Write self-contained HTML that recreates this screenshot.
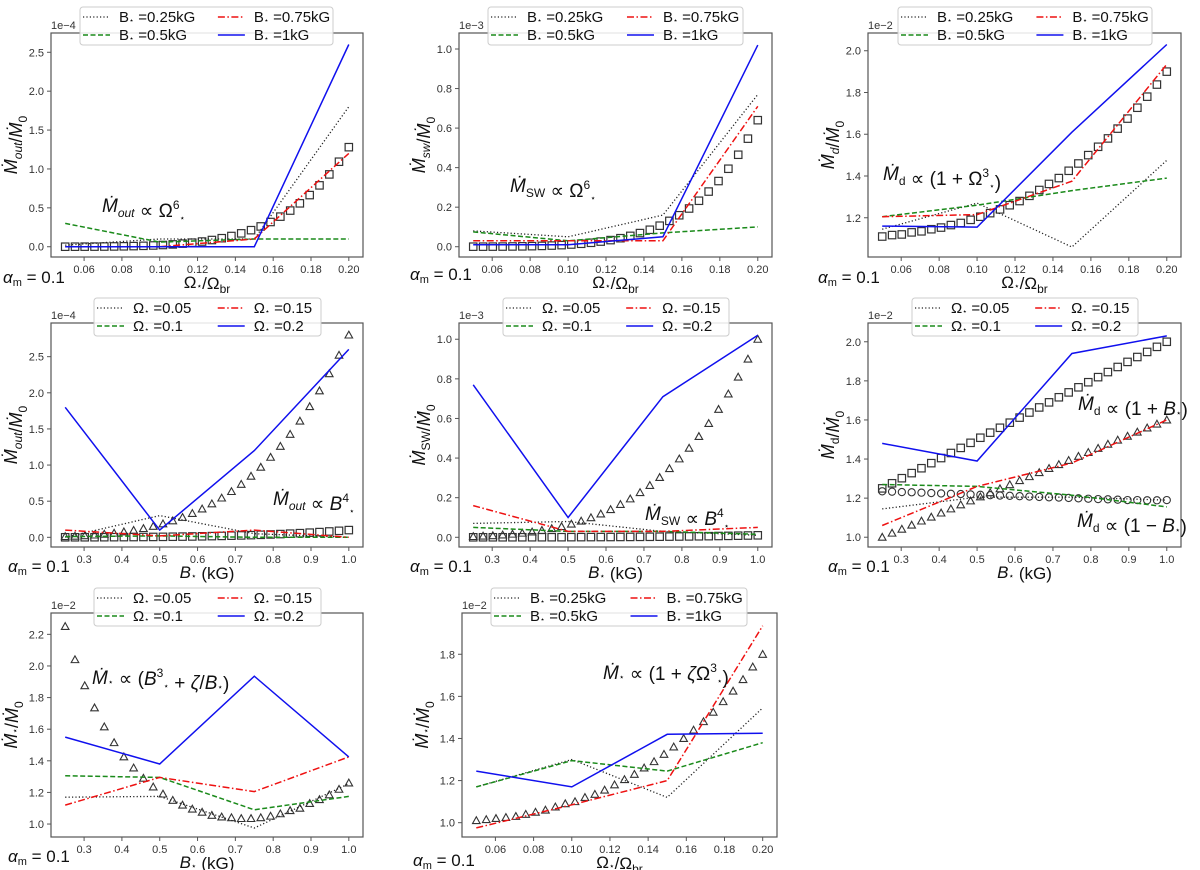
<!DOCTYPE html>
<html><head><meta charset="utf-8"><style>
html,body{margin:0;padding:0;background:#fff;}
svg{display:block;font-family:"Liberation Sans","DejaVu Sans",sans-serif;}
</style></head><body>
<svg id="fig" width="1200" height="870" viewBox="0 0 1200 870" xmlns="http://www.w3.org/2000/svg"></svg>
<script>
// ---------- DATA ----------
const omegaLineX = [0.05, 0.10, 0.15, 0.20];
const bLineX = [0.25, 0.50, 0.75, 1.00];
const omegaMarkX = [0.0500,0.0552,0.0603,0.0655,0.0707,0.0759,0.0810,0.0862,0.0914,0.0966,0.1017,0.1069,0.1121,0.1172,0.1224,0.1276,0.1328,0.1379,0.1431,0.1483,0.1534,0.1586,0.1638,0.1690,0.1741,0.1793,0.1845,0.1897,0.1948,0.2000];
const bMarkX = [0.2500,0.2759,0.3017,0.3276,0.3534,0.3793,0.4052,0.4310,0.4569,0.4828,0.5086,0.5345,0.5603,0.5862,0.6121,0.6379,0.6638,0.6897,0.7155,0.7414,0.7672,0.7931,0.8190,0.8448,0.8707,0.8966,0.9224,0.9483,0.9741,1.0000];
const omegaTicks = [0.06,0.08,0.10,0.12,0.14,0.16,0.18,0.20];
const omegaTickLabels = ["0.06","0.08","0.10","0.12","0.14","0.16","0.18","0.20"];
const bTicks = [0.3,0.4,0.5,0.6,0.7,0.8,0.9,1.0];
const bTickLabels = ["0.3","0.4","0.5","0.6","0.7","0.8","0.9","1.0"];
const bLegend = ["=0.25kG","=0.5kG","=0.75kG","=1kG"];
const omLegend = ["=0.05","=0.1","=0.15","=0.2"];

const p1B025 = [0.02,0.10,0.10,1.80];
const p1B05 = [0.30,0.06,0.10,0.10];
const p1B075 = [0.0,0.0,0.10,1.20];
const p1B1 = [0.0,0.0,0.0,2.60];
const p1Squares = [0.0003,0.0006,0.0010,0.0016,0.0025,0.0038,0.0056,0.0082,0.0117,0.0161,0.0221,0.0299,0.0398,0.0520,0.0670,0.0863,0.1097,0.138,0.172,0.213,0.261,0.318,0.387,0.465,0.558,0.664,0.789,0.930,1.093,1.28];
const p2B025 = [0.08,0.05,0.16,0.77];
const p2B05 = [0.075,0.03,0.07,0.10];
const p2B075 = [0.03,0.03,0.03,0.71];
const p2B1 = [0.01,0.01,0.05,1.02];
const p2Squares = [0.0002,0.0003,0.0005,0.0008,0.0013,0.0019,0.0028,0.0041,0.0058,0.0080,0.0111,0.0149,0.0199,0.0260,0.0335,0.0431,0.0549,0.0690,0.0858,0.1064,0.1307,0.1591,0.1933,0.2325,0.2790,0.3322,0.3944,0.4652,0.5466,0.64];
const p3B025 = [1.145,1.27,1.06,1.475];
const p3B05 = [1.205,1.26,1.33,1.39];
const p3B075 = [1.205,1.215,1.375,1.935];
const p3B1 = [1.16,1.155,1.61,2.03];
const p3Squares = [1.11,1.117,1.12,1.13,1.135,1.145,1.153,1.165,1.175,1.19,1.205,1.222,1.24,1.26,1.28,1.305,1.333,1.362,1.39,1.425,1.46,1.50,1.54,1.58,1.627,1.675,1.727,1.78,1.838,1.90];
const p4O005 = [0.0,0.30,0.05,0.0];
const p4O01 = [0.01,0.02,0.0,0.0];
const p4O015 = [0.10,0.02,0.10,0.0];
const p4O02 = [1.80,0.10,1.20,2.60];
const p4Triangles = [0.011,0.016,0.023,0.032,0.044,0.058,0.076,0.097,0.122,0.152,0.187,0.229,0.276,0.331,0.393,0.464,0.544,0.634,0.734,0.846,0.970,1.108,1.260,1.426,1.609,1.809,2.027,2.264,2.521,2.80];
const p4Squares = [0.0004,0.0006,0.0008,0.0012,0.0016,0.0021,0.0027,0.0035,0.0044,0.0054,0.0067,0.0082,0.0099,0.0118,0.0140,0.0166,0.0194,0.0226,0.0262,0.0302,0.0347,0.0396,0.0450,0.0509,0.0575,0.0646,0.0724,0.0809,0.0900,0.10];
const p5O005 = [0.07,0.08,0.03,0.01];
const p5O01 = [0.05,0.03,0.03,0.015];
const p5O015 = [0.16,0.03,0.03,0.05];
const p5O02 = [0.77,0.10,0.71,1.02];
const p5Triangles = [0.004,0.006,0.008,0.012,0.016,0.021,0.027,0.035,0.044,0.054,0.067,0.082,0.099,0.118,0.140,0.166,0.194,0.226,0.262,0.302,0.347,0.396,0.450,0.509,0.575,0.646,0.724,0.809,0.900,1.0];
const p5Squares = [0.0000,0.0001,0.0001,0.0001,0.0002,0.0002,0.0003,0.0003,0.0004,0.0005,0.0007,0.0008,0.0010,0.0012,0.0014,0.0017,0.0019,0.0023,0.0026,0.0030,0.0035,0.0040,0.0045,0.0051,0.0057,0.0065,0.0072,0.0081,0.0090,0.010];
const p6O005 = [1.145,1.205,1.205,1.19];
const p6O01 = [1.27,1.26,1.215,1.155];
const p6O015 = [1.06,1.26,1.38,1.60];
const p6O02 = [1.48,1.39,1.94,2.03];
const p6Squares = [1.25,1.276,1.302,1.328,1.353,1.379,1.405,1.431,1.457,1.483,1.509,1.535,1.560,1.586,1.612,1.638,1.664,1.690,1.716,1.741,1.767,1.793,1.819,1.845,1.871,1.897,1.922,1.948,1.974,2.00];
const p6Triangles = [1.00,1.021,1.041,1.062,1.083,1.103,1.124,1.145,1.166,1.186,1.207,1.228,1.248,1.269,1.290,1.310,1.331,1.352,1.372,1.393,1.414,1.434,1.455,1.476,1.497,1.517,1.538,1.559,1.579,1.60];
const p6Circles = [1.235,1.233,1.231,1.230,1.228,1.226,1.224,1.222,1.221,1.219,1.217,1.215,1.213,1.212,1.210,1.208,1.206,1.204,1.203,1.201,1.199,1.197,1.195,1.194,1.192,1.190,1.190,1.189,1.189,1.19];
const p7O005 = [1.17,1.175,0.975,1.255];
const p7O01 = [1.305,1.295,1.09,1.175];
const p7O015 = [1.12,1.295,1.205,1.425];
const p7O02 = [1.55,1.38,1.935,1.425];
const p7Triangles = [2.25,2.04,1.875,1.735,1.615,1.515,1.425,1.355,1.29,1.235,1.19,1.15,1.12,1.095,1.075,1.055,1.045,1.04,1.035,1.035,1.04,1.05,1.065,1.085,1.10,1.13,1.155,1.185,1.22,1.26];
const p8B025 = [1.17,1.30,1.12,1.545];
const p8B05 = [1.17,1.295,1.245,1.38];
const p8B075 = [0.975,1.085,1.20,1.935];
const p8B1 = [1.245,1.17,1.42,1.425];
const p8Triangles = [1.01,1.015,1.02,1.025,1.03,1.04,1.05,1.06,1.075,1.09,1.10,1.12,1.135,1.155,1.18,1.205,1.23,1.26,1.29,1.325,1.36,1.40,1.44,1.48,1.525,1.575,1.625,1.68,1.74,1.80];

// ---------- RENDER ----------
const NS = "http://www.w3.org/2000/svg";
const svg = document.getElementById('fig');
function mk(tag, attrs, parent){ const e=document.createElementNS(NS,tag); for(const k in attrs) e.setAttribute(k,attrs[k]); (parent||svg).appendChild(e); return e; }
const STYLES = [
  {stroke:'#222', dash:'1.2,2.2', w:1.3},
  {stroke:'#1a8a1a', dash:'5,2.5', w:1.5},
  {stroke:'#ee1111', dash:'7,2.5,1.5,2.5', w:1.5},
  {stroke:'#1010ee', dash:'', w:1.5}
];
const STAR='<tspan font-size="8" dy="1">⋆</tspan><tspan dy="-1"> </tspan>';
const STARA='<tspan font-size="9" dy="1">⋆</tspan><tspan dy="-1"></tspan>';

function panel(cfg){
  const g = mk('g',{});
  
  
  const L=cfg.box[0], R=cfg.box[1], T=cfg.box[2], B=cfg.box[3];
  const sx = v => L + (v - cfg.xlim[0])/(cfg.xlim[1]-cfg.xlim[0])*(R-L);
  const sy = v => B - (v - cfg.ylim[0])/(cfg.ylim[1]-cfg.ylim[0])*(B-T);
  const frame = mk('rect',{x:L,y:T,width:R-L,height:B-T,fill:'#fff',stroke:'#555','stroke-width':1.2},g);
  
  
  cfg.xt.forEach((v,i)=>{
    const x=sx(v);
    mk('line',{x1:x,x2:x,y1:B,y2:B+4,stroke:'#555','stroke-width':1},g);
    const t=mk('text',{x:x,y:B+16,'font-size':11,fill:'#333','text-anchor':'middle'},g);
    t.textContent=cfg.xtl[i];
    
    
  });
  cfg.yt.forEach(v=>{
    const y=sy(v);
    mk('line',{x1:L-4,x2:L,y1:y,y2:y,stroke:'#555','stroke-width':1},g);
    const t=mk('text',{x:L-7,y:y+4,'font-size':11,fill:'#333','text-anchor':'end'},g);
    t.textContent=v.toFixed(1);
    
    
  });
  const off=mk('text',{x:L,y:T-4,'font-size':11,fill:'#333'},g);
  off.textContent=cfg.offset;
  
  
  (cfg.markers||[]).forEach(m=>{
    m.vals.forEach((v,i)=>{
      const x=sx(m.xs[i]), y=sy(v);
      let e;
      if(m.shape==='sq') e=mk('rect',{x:x-3.7,y:y-3.7,width:7.4,height:7.4,fill:'none',stroke:'#333','stroke-width':1.2},g);
      else if(m.shape==='tri') e=mk('path',{d:`M${x},${y-3.8}L${x+3.8},${y+3}L${x-3.8},${y+3}Z`,fill:'none',stroke:'#333','stroke-width':1.1},g);
      else e=mk('circle',{cx:x,cy:y,r:3.6,fill:'none',stroke:'#333','stroke-width':1.1},g);
      
      
    });
  });
  cfg.lines.forEach((ys,k)=>{
    const st=STYLES[k];
    const pts=ys.map((v,i)=>sx(cfg.lx[i]).toFixed(1)+','+sy(v).toFixed(1)).join(' ');
    const p=mk('polyline',{points:pts,fill:'none',stroke:st.stroke,'stroke-width':st.w,'stroke-dasharray':st.dash},g);
    
    
  });
  const lg=cfg.legend; const lx=lg[0], ly=lg[1], lw=lg[2];
  const lgG=mk('g',{},g);
  
  
  mk('rect',{x:lx,y:ly,width:lw,height:38,rx:3,fill:'#fff','fill-opacity':0.85,stroke:'#ccc','stroke-width':1},lgG);
  cfg.labels.forEach((lab,k)=>{
    const col=k>>1, row=k&1;
    const x0=lx+3+col*(lw*0.545-3);
    const y0=ly+10+row*18;
    const st=STYLES[k];
    mk('line',{x1:x0,x2:x0+27,y1:y0,y2:y0,stroke:st.stroke,'stroke-width':st.w,'stroke-dasharray':st.dash},lgG);
    const t=mk('text',{x:x0+36,y:y0+5,'font-size':15,fill:'#111'},lgG);
    t.innerHTML=cfg.sym+STAR+lab;
    
    
  });
  const xl=mk('text',{x:(L+R)/2,y:B+31,'font-size':17,fill:'#111','text-anchor':'middle'},g);
  xl.innerHTML=cfg.xlabel;
  
  
  const cy=(T+B)/2;
  const yl=mk('text',{x:L-34,y:cy,'font-size':18,fill:'#111','text-anchor':'middle',transform:`rotate(-90 ${L-34} ${cy})`},g);
  yl.innerHTML=cfg.ylabel;
  
  
  const al=mk('text',{x:cfg.alpha[0],y:cfg.alpha[1],'font-size':17,fill:'#111'},g);
  al.innerHTML='<tspan font-style="italic">α</tspan><tspan font-size="11" dy="3">m</tspan><tspan dy="-3"> = 0.1</tspan>';
  
  
  cfg.ann.forEach(a=>{
    const t=mk('text',{x:a[0],y:a[1],'font-size':19,fill:'#111'},g);
    t.innerHTML=a[2];
    
    
  });
}

const OX=[0.0425,0.2075], BX=[0.2125,1.0375];
const xlOm='Ω'+STARA+'/Ω<tspan font-size="12" dy="4">br</tspan>';
const xlB='<tspan font-style="italic">B</tspan>'+STARA+' (kG)';
const sub=s=>`<tspan font-size="12" dy="5">${s}</tspan><tspan dy="-5"></tspan>`;
const sup=s=>`<tspan font-size="12" dy="-8">${s}</tspan><tspan dy="8"></tspan>`;
const supStar=s=>`<tspan font-size="12" dy="-8">${s}</tspan><tspan font-size="9" dy="12">⋆</tspan><tspan dy="-4"></tspan>`;
const M='<tspan font-style="italic">Ṁ</tspan>';
const Bi='<tspan font-style="italic">B</tspan>';
const mTick=[0,0.5,1.0,1.5,2.0,2.5];

panel({name:'panel-mout-vs-omega',box:[51,363,33,257],xlim:OX,ylim:[-0.132,2.748],xt:omegaTicks,xtl:omegaTickLabels,yt:mTick,offset:'1e−4',sym:'B',
  lx:omegaLineX,lines:[p1B025,p1B05,p1B075,p1B1],markers:[{shape:'sq',xs:omegaMarkX,vals:p1Squares,name:'square-marker'}],
  legend:[80,7,253],labels:bLegend,xlabel:xlOm,ylabel:M+sub('<tspan font-style="italic">out</tspan>')+'/'+M+sub('0'),alpha:[3,283],
  ann:[[102,212,M+sub('<tspan font-style="italic">out</tspan>')+' ∝ Ω'+supStar('6')]]});
panel({name:'panel-msw-vs-omega',box:[459,772,33,257],xlim:OX,ylim:[-0.052,1.081],xt:omegaTicks,xtl:omegaTickLabels,yt:[0,0.2,0.4,0.6,0.8,1.0],offset:'1e−3',sym:'B',
  lx:omegaLineX,lines:[p2B025,p2B05,p2B075,p2B1],markers:[{shape:'sq',xs:omegaMarkX,vals:p2Squares,name:'square-marker'}],
  legend:[488,7,255],labels:bLegend,xlabel:xlOm,ylabel:M+sub('<tspan font-style="italic">sw</tspan>')+'/'+M+sub('0'),alpha:[410,280],
  ann:[[510,192,M+sub('SW')+' ∝ Ω'+supStar('6')]]});
panel({name:'panel-md-vs-omega',box:[868,1181,33,257],xlim:OX,ylim:[1.012,2.085],xt:omegaTicks,xtl:omegaTickLabels,yt:[1.2,1.4,1.6,1.8,2.0],offset:'1e−2',sym:'B',
  lx:omegaLineX,lines:[p3B025,p3B05,p3B075,p3B1],markers:[{shape:'sq',xs:omegaMarkX,vals:p3Squares,name:'square-marker'}],
  legend:[898,7,254],labels:bLegend,xlabel:xlOm,ylabel:M+sub('<tspan font-style="italic">d</tspan>')+'/'+M+sub('0'),alpha:[818,283],
  ann:[[883,180,M+sub('d')+' ∝ (1 + Ω'+supStar('3')+')']]});
panel({name:'panel-mout-vs-b',box:[51,363,323,547],xlim:BX,ylim:[-0.134,2.966],xt:bTicks,xtl:bTickLabels,yt:mTick,offset:'1e−4',sym:'Ω',
  lx:bLineX,lines:[p4O005,p4O01,p4O015,p4O02],markers:[{shape:'sq',xs:bMarkX,vals:p4Squares,name:'square-marker'},{shape:'tri',xs:bMarkX,vals:p4Triangles,name:'triangle-marker'}],
  legend:[94,298,227],labels:omLegend,xlabel:xlB,ylabel:M+sub('<tspan font-style="italic">out</tspan>')+'/'+M+sub('0'),alpha:[8,572],
  ann:[[273,505,M+sub('<tspan font-style="italic">out</tspan>')+' ∝ '+Bi+supStar('4')]]});
panel({name:'panel-msw-vs-b',box:[459,772,323,547],xlim:BX,ylim:[-0.049,1.082],xt:bTicks,xtl:bTickLabels,yt:[0,0.2,0.4,0.6,0.8,1.0],offset:'1e−3',sym:'Ω',
  lx:bLineX,lines:[p5O005,p5O01,p5O015,p5O02],markers:[{shape:'sq',xs:bMarkX,vals:p5Squares,name:'square-marker'},{shape:'tri',xs:bMarkX,vals:p5Triangles,name:'triangle-marker'}],
  legend:[503,298,226],labels:omLegend,xlabel:xlB,ylabel:M+sub('SW')+'/'+M+sub('0'),alpha:[410,572],
  ann:[[645,520,M+sub('SW')+' ∝ '+Bi+supStar('4')]]});
panel({name:'panel-md-vs-b',box:[868,1181,323,547],xlim:BX,ylim:[0.950,2.096],xt:bTicks,xtl:bTickLabels,yt:[1.0,1.2,1.4,1.6,1.8,2.0],offset:'1e−2',sym:'Ω',
  lx:bLineX,lines:[p6O005,p6O01,p6O015,p6O02],markers:[{shape:'sq',xs:bMarkX,vals:p6Squares,name:'square-marker'},{shape:'tri',xs:bMarkX,vals:p6Triangles,name:'triangle-marker'},{shape:'circ',xs:bMarkX,vals:p6Circles,name:'circle-marker'}],
  legend:[912,298,226],labels:omLegend,xlabel:xlB,ylabel:M+sub('d')+'/'+M+sub('0'),alpha:[828,572],
  ann:[[1078,410,M+sub('d')+' ∝ (1 + '+Bi+STARA+')'],[1077,527,M+sub('d')+' ∝ (1 − '+Bi+STARA+')']]});
panel({name:'panel-mstar-vs-b',box:[51,363,613,837],xlim:BX,ylim:[0.918,2.335],xt:bTicks,xtl:bTickLabels,yt:[1.0,1.2,1.4,1.6,1.8,2.0,2.2],offset:'1e−2',sym:'Ω',
  lx:bLineX,lines:[p7O005,p7O01,p7O015,p7O02],markers:[{shape:'tri',xs:bMarkX,vals:p7Triangles,name:'triangle-marker'}],
  legend:[94,588,227],labels:omLegend,xlabel:xlB,ylabel:M+STARA+'/'+M+sub('0'),alpha:[8,862],
  ann:[[92,684,M+STARA+' ∝ ('+Bi+supStar('3')+' + <tspan font-style="italic">ζ</tspan>/'+Bi+STARA+')']]});
panel({name:'panel-mstar-vs-omega',box:[462,777,613,837],xlim:OX,ylim:[0.932,1.996],xt:omegaTicks,xtl:omegaTickLabels,yt:[1.0,1.2,1.4,1.6,1.8],offset:'1e−2',sym:'B',
  lx:omegaLineX,lines:[p8B025,p8B05,p8B075,p8B1],markers:[{shape:'tri',xs:omegaMarkX,vals:p8Triangles,name:'triangle-marker'}],
  legend:[491,588,256],labels:bLegend,xlabel:xlOm,ylabel:M+STARA+'/'+M+sub('0'),alpha:[413,866],
  ann:[[603,679,M+STARA+' ∝ (1 + <tspan font-style="italic">ζ</tspan>Ω'+supStar('3')+')']]});
</script>
</body></html>
